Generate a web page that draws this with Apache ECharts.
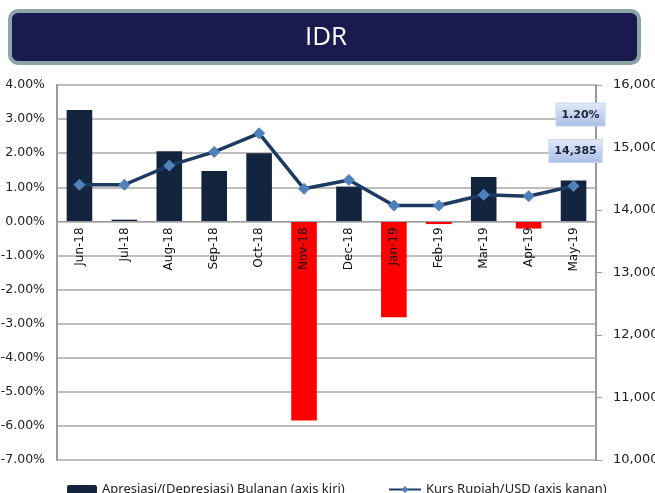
<!DOCTYPE html>
<html>
<head>
<meta charset="utf-8">
<script src="https://cdn.jsdelivr.net/npm/echarts@6/dist/echarts.min.js"></script>
<style>
    html, body { margin: 0; padding: 0; background: #fff; }
    #main { width: 655px; height: 493px; }
</style>
</head>
<body>
<div id="main"></div>
<script>
// 月份
const months = ['Jun-18', 'Jul-18', 'Aug-18', 'Sep-18', 'Oct-18', 'Nov-18',
    'Dec-18', 'Jan-19', 'Feb-19', 'Mar-19', 'Apr-19', 'May-19'];
// 月度升值/贬值 (%)
const monthlyChange = [3.27, 0.05, 2.06, 1.48, 2.0, -5.84, 1.02, -2.81, -0.08, 1.3, -0.21, 1.2];
// 汇率 IDR/USD
const rupiahUsd = [14404, 14404, 14711, 14929, 15227, 14339, 14481, 14072, 14072, 14244, 14220, 14385];

const barName = 'Apresiasi/(Depresiasi) Bulanan (axis kiri)';
const lineName = 'Kurs Rupiah/USD (axis kanan)';

const leftMin = -7, leftMax = 4;
const gridTop = 85, gridBottom = 33, chartH = 493;

const calloutBg = new echarts.graphic.LinearGradient(0, 0, 0, 1, [
    { offset: 0, color: '#e3eaf7' },
    { offset: 1, color: '#a8bfe6' }
]);
const calloutLabel = {
    show: true,
    position: 'top',
    fontFamily: 'DejaVu Sans',
    fontSize: 11,
    fontWeight: 'bold',
    color: '#1c2340',
    backgroundColor: calloutBg,
    borderColor: '#c9d6ee',
    borderWidth: 1,
    padding: [6, 5, 5, 5]
};

// onZero 在双 y 轴下不生效，用 offset 把类目轴移到 0% 位置
const plotH = chartH - gridTop - gridBottom;
const zeroOffset = -plotH * (0 - leftMin) / (leftMax - leftMin);

const chart = echarts.init(document.getElementById('main'));

const option = {
    animation: false,
    graphic: [{
        type: 'group',
        left: 8,
        top: 9,
        children: [{
            type: 'rect',
            shape: { x: 0, y: 0, width: 629, height: 52, r: 8 },
            style: { fill: '#1b1a4f', stroke: '#8ba5a8', lineWidth: 4 }
        }, {
            type: 'text',
            x: 316,
            y: 27,
            style: {
                text: 'IDR',
                fill: '#fff',
                font: '26px "Open Sans"',
                align: 'center',
                verticalAlign: 'middle'
            }
        }]
    }],
    grid: {
        left: 57,
        right: 59,
        top: gridTop,
        bottom: gridBottom,
        outerBoundsMode: 'none'
    },
    legend: [{
        data: [barName],
        left: 62,
        top: 478,
        itemWidth: 30,
        itemHeight: 9,
        textStyle: { fontFamily: 'Noto Sans', fontSize: 13, color: '#222' }
    }, {
        data: [lineName],
        left: 383,
        top: 478,
        itemWidth: 32,
        itemHeight: 9,
        textStyle: { fontFamily: 'Noto Sans', fontSize: 13, color: '#222' }
    }],
    xAxis: {
        type: 'category',
        data: months,
        z: 10,
        offset: zeroOffset,
        axisLine: { onZero: false, lineStyle: { color: '#9a9a9a' } },
        axisTick: { show: false },
        axisLabel: {
            rotate: 90,
            margin: 6,
            fontFamily: 'DejaVu Sans',
            fontSize: 12,
            color: '#111'
        }
    },
    yAxis: [{
        type: 'value',
        min: leftMin,
        max: leftMax,
        interval: 1,
        axisLine: { show: true, lineStyle: { color: '#9a9a9a', width: 2 } },
        axisTick: { show: false },
        splitLine: { lineStyle: { color: '#a8a8a8', width: 1.5 } },
        axisLabel: {
            margin: 12,
            fontFamily: 'DejaVu Sans',
            fontSize: 12.5,
            color: '#222',
            formatter: v => v.toFixed(2) + '%'
        }
    }, {
        type: 'value',
        min: 10000,
        max: 16000,
        interval: 1000,
        axisLine: { show: true, lineStyle: { color: '#9a9a9a', width: 2 } },
        axisTick: { show: true, length: 6, lineStyle: { color: '#9a9a9a' } },
        splitLine: { show: false },
        axisLabel: {
            margin: 17,
            fontFamily: 'DejaVu Sans',
            fontSize: 13,
            color: '#222',
            formatter: v => v.toLocaleString('en-US')
        }
    }],
    series: [{
        name: barName,
        type: 'bar',
        yAxisIndex: 0,
        barWidth: '57%',
        itemStyle: { color: '#13243f' },
        data: monthlyChange.map((v, i) => {
            const item = {
                value: v,
                itemStyle: { color: v < 0 ? '#ff0000' : '#13243f' }
            };
            if (i === monthlyChange.length - 1) {
                item.label = Object.assign({}, calloutLabel, {
                    offset: [7, -50],
                    formatter: p => p.value.toFixed(2) + '%'
                });
            }
            return item;
        })
    }, {
        name: lineName,
        type: 'line',
        yAxisIndex: 1,
        z: 5,
        symbol: 'diamond',
        symbolSize: 11,
        lineStyle: { color: '#1d3a63', width: 3.5 },
        itemStyle: { color: '#4f81bd', borderColor: '#4f81bd' },
        data: rupiahUsd.map((v, i) => {
            const item = { value: v };
            if (i === rupiahUsd.length - 1) {
                item.label = Object.assign({}, calloutLabel, {
                    offset: [2, -13],
                    formatter: p => p.value.toLocaleString('en-US')
                });
            }
            return item;
        })
    }]
};

chart.setOption(option);
</script>
</body>
</html>
